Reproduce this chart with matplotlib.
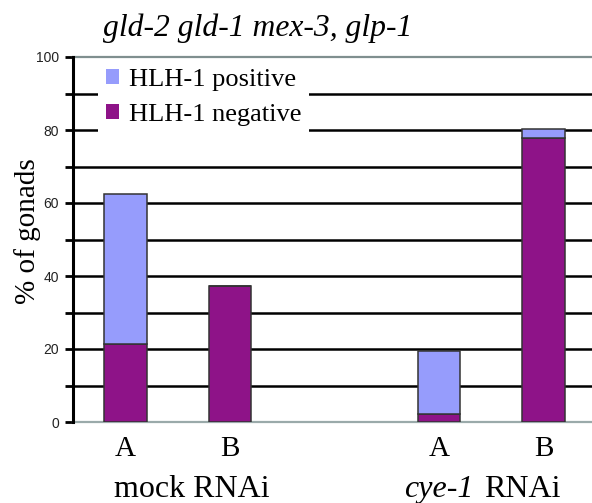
import matplotlib.pyplot as plt
import numpy as np
from matplotlib.patches import Patch

# data
bar_labels = ['A', 'B', 'A', 'B']
bar_pos = [0, 1, 3, 4]
negative = [21.3, 37.3, 2.2, 77.7]
positive = [41.1, 0.0, 17.3, 2.5]
series_names = ['HLH-1 positive', 'HLH-1 negative']
title = 'gld-2 gld-1 mex-3, glp-1'
ylabel = '% of gonads'

c_pos = '#969cfc'
c_neg = '#8e1388'
serif = 'Liberation Serif'
sans = 'Liberation Sans'

fig = plt.figure(figsize=(5.92, 5.03), dpi=100)
ax = fig.add_axes([73/592, 1-422/503, 1-73/592, 365/503])

# gridlines every 10
for yv in np.arange(10, 100, 10):
    ax.axhline(yv, color='black', lw=1.8, zorder=1)

w = 0.41
neg = np.array(negative)
pos = np.array(positive)
ax.bar(bar_pos, neg, width=w, color=c_neg, edgecolor='#333333', lw=1.1, zorder=3)
ax.bar(bar_pos, pos, bottom=neg, width=w, color=c_pos, edgecolor='#333333', lw=1.1, zorder=3)

ax.set_xlim(-0.502, 4.464)
ax.set_ylim(0, 100)

ax.spines['right'].set_visible(False)
ax.spines['top'].set_color('#7f8f8f')
ax.spines['top'].set_linewidth(1.6)
ax.spines['bottom'].set_color('#9aaaaa')
ax.spines['bottom'].set_linewidth(1.6)
ax.spines['left'].set_color('black')
ax.spines['left'].set_linewidth(2.2)
ax.spines['left'].set_zorder(4)

ax.set_yticks(np.arange(0, 101, 20))
ax.set_yticks(np.arange(0, 101, 10), minor=True)
ax.tick_params(axis='y', which='both', length=6, width=2, direction='out', color='black')
ax.tick_params(axis='y', which='major', labelsize=10, pad=4)
for t in ax.get_yticklabels():
    t.set_fontfamily(sans)
    t.set_color('#222222')

ax.set_xticks(bar_pos, bar_labels)
ax.tick_params(axis='x', length=0, pad=10, labelsize=21)
for t in ax.get_xticklabels():
    t.set_fontfamily(serif)

# group labels
tr = ax.get_xaxis_transform()
gy = -0.184
ax.text(0.632, gy, 'mock RNAi', transform=tr, ha='center', va='center',
        fontsize=23, fontfamily=serif)
ax.text(3.325, gy, 'cye-1', transform=tr, ha='right', va='center',
        fontsize=23, fontfamily=serif, style='italic')
ax.text(3.431, gy, 'RNAi', transform=tr, ha='left', va='center',
        fontsize=23, fontfamily=serif)

fig.text(28/592, 1-231/503, ylabel, rotation=90, ha='center', va='center',
         fontsize=21, fontfamily=serif)
fig.text(258/592, 1-28/503, title, ha='center', va='center',
         fontsize=22.8, fontfamily=serif, style='italic')

handles = [Patch(facecolor=c_pos, edgecolor='none'), Patch(facecolor=c_neg, edgecolor='none')]
leg = ax.legend(handles, series_names, loc='upper left', bbox_to_anchor=(0.048, 0.99),
                borderaxespad=0, frameon=True, fancybox=False, framealpha=1,
                prop={'family': serif, 'size': 19}, handlelength=0.5, handleheight=0.5,
                handletextpad=0.36, labelspacing=0.5, borderpad=0.3)
leg.get_frame().set_edgecolor('none')
leg.get_frame().set_facecolor('white')
leg.set_zorder(5)

fig.savefig('out.png', dpi=100)
